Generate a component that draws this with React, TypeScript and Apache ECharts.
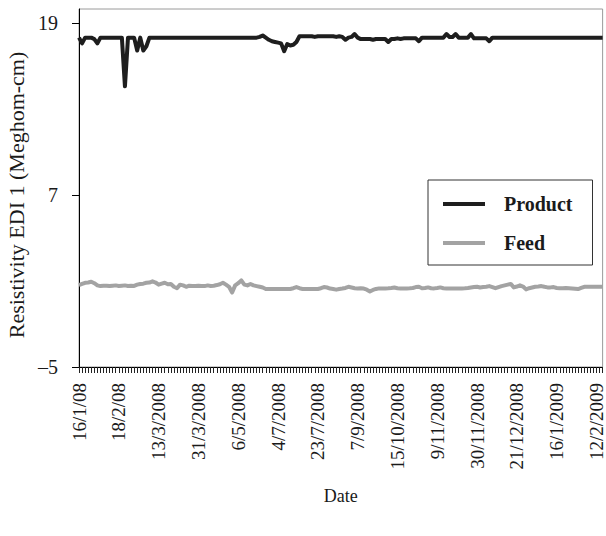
import React, { useEffect, useRef } from "react";
import * as echarts from "echarts";

const tickLabels = [
  "16/1/08", "18/2/08", "13/3/2008", "31/3/2008", "6/5/2008", "4/7/2008", "23/7/2008",
  "7/9/2008", "15/10/2008", "9/11/2008", "30/11/2008", "21/12/2008", "16/1/2009", "12/2/2009",
];
const pointsPerLabel = 13;

const product = [
  18.0, 17.6, 18.0, 18.0, 18.0, 17.9, 17.6, 18.0, 18.0, 18.0,
  18.0, 18.0, 18.0, 18.0, 18.0, 14.6, 18.0, 18.0, 18.0, 17.1,
  18.0, 17.1, 17.4, 18.0, 18.0, 18.0, 18.0, 18.0, 18.0, 18.0,
  18.0, 18.0, 18.0, 18.0, 18.0, 18.0, 18.0, 18.0, 18.0, 18.0,
  18.0, 18.0, 18.0, 18.0, 18.0, 18.0, 18.0, 18.0, 18.0, 18.0,
  18.0, 18.0, 18.0, 18.0, 18.0, 18.0, 18.0, 18.0, 18.0, 18.05,
  18.15, 18.0, 17.85, 17.75, 17.7, 17.65, 17.6, 17.05, 17.55, 17.45,
  17.5, 17.7, 18.1, 18.1, 18.1, 18.1, 18.1, 18.05, 18.1, 18.1,
  18.1, 18.1, 18.1, 18.1, 18.05, 18.1, 18.05, 17.85, 18.0, 18.05,
  18.25, 18.0, 17.9, 17.9, 17.9, 17.9, 17.85, 17.9, 17.9, 17.9,
  17.9, 17.7, 17.9, 17.9, 17.95, 17.9, 17.95, 17.95, 17.95, 17.95,
  17.95, 17.75, 18.0, 18.0, 18.0, 18.0, 18.0, 18.0, 18.0, 18.0,
  18.25, 18.05, 18.05, 18.25, 18.0, 18.0, 18.0, 18.0, 18.25, 17.95,
  17.95, 17.95, 17.95, 17.95, 17.75, 18.0, 18.0, 18.0, 18.0, 18.0,
  18.0, 18.0, 18.0, 18.0, 18.0, 18.0, 18.0, 18.0, 18.0, 18.0,
  18.0, 18.0, 18.0, 18.0, 18.0, 18.0, 18.0, 18.0, 18.0, 18.0,
  18.0, 18.0, 18.0, 18.0, 18.0, 18.0, 18.0, 18.0, 18.0, 18.0,
  18.0, 18.0,
];

const feed = [
  0.72, 0.8, 0.88, 0.9, 0.95, 0.85, 0.7, 0.65, 0.67, 0.68,
  0.65, 0.68, 0.7, 0.66, 0.68, 0.7, 0.66, 0.68, 0.66, 0.75,
  0.8, 0.82, 0.88, 0.9, 0.98, 0.9, 0.75, 0.82, 0.88, 0.78,
  0.8, 0.6, 0.5, 0.75, 0.7, 0.6, 0.68, 0.66, 0.65, 0.68,
  0.66, 0.65, 0.7, 0.66, 0.68, 0.72, 0.78, 0.88, 0.75, 0.6,
  0.2, 0.7, 0.85, 1.05, 0.75, 0.7, 0.8, 0.7, 0.65, 0.6,
  0.55, 0.45, 0.44, 0.45, 0.44, 0.45, 0.45, 0.44, 0.45, 0.45,
  0.5, 0.58, 0.5, 0.45, 0.44, 0.45, 0.45, 0.44, 0.45, 0.5,
  0.58, 0.55, 0.48, 0.45, 0.4, 0.45, 0.48, 0.52, 0.6, 0.55,
  0.5, 0.48, 0.5, 0.48, 0.4, 0.28, 0.38, 0.45, 0.49, 0.49,
  0.49, 0.5, 0.52, 0.55, 0.5, 0.49, 0.49, 0.49, 0.5, 0.52,
  0.58, 0.6, 0.5, 0.52, 0.56, 0.5, 0.49, 0.52, 0.56, 0.5,
  0.49, 0.49, 0.49, 0.49, 0.49, 0.49, 0.5, 0.52, 0.55, 0.58,
  0.6, 0.55, 0.58, 0.6, 0.65, 0.58, 0.5, 0.58, 0.65, 0.7,
  0.75, 0.8, 0.56, 0.62, 0.7, 0.62, 0.42, 0.5, 0.55, 0.6,
  0.62, 0.65, 0.6, 0.56, 0.56, 0.58, 0.52, 0.5, 0.5, 0.52,
  0.5, 0.48, 0.46, 0.44, 0.52, 0.6, 0.6, 0.6, 0.6, 0.6,
  0.6, 0.6,
];

const yTicks = [-5, 7, 19];

const categories = product.map((_, i) =>
  i % pointsPerLabel === 0 && tickLabels[i / pointsPerLabel]
    ? tickLabels[i / pointsPerLabel]
    : "p" + i
);

const SERIF = "Liberation Serif";

export default function App() {
  const ref = useRef<HTMLDivElement>(null);
  useEffect(() => {
    if (!ref.current) return;
    const chart = echarts.init(ref.current, undefined, { renderer: "svg" });
    chart.setOption({
      animation: false,
      backgroundColor: "#ffffff",
      textStyle: { fontFamily: SERIF },
      grid: {
        left: 79,
        right: 3,
        top: 9,
        bottom: 169,
        show: true,
        borderColor: "#9a9a9a",
        borderWidth: 1,
      },
      graphic: [
        {
          type: "text",
          x: 16,
          y: 195,
          rotation: Math.PI / 2,
          style: {
            text: "Resistivity EDI 1 (Meghom-cm)",
            fontFamily: SERIF,
            fontSize: 22,
            fill: "#1a1a1a",
            align: "center",
            verticalAlign: "middle",
          },
        },
      ],
      legend: {
        orient: "vertical",
        left: 428,
        top: 180,
        itemWidth: 42,
        itemHeight: 4,
        itemGap: 19,
        padding: [14, 20, 12, 15],
        borderColor: "#333",
        borderWidth: 1,
        backgroundColor: "#fff",
        textStyle: {
          fontFamily: SERIF,
          fontWeight: "bold",
          fontSize: 20,
          color: "#1a1a1a",
          padding: [0, 0, 0, 14],
        },
        data: [
          { name: "Product", icon: "rect" },
          { name: "Feed", icon: "rect" },
        ],
      },
      xAxis: {
        type: "category",
        data: categories,
        boundaryGap: false,
        name: "Date",
        nameLocation: "middle",
        nameGap: 120,
        nameTextStyle: { fontFamily: SERIF, fontSize: 18, color: "#1a1a1a" },
        axisLine: { show: true, onZero: false, lineStyle: { color: "#000", width: 1 } },
        axisTick: {
          show: true,
          interval: 0,
          length: 6,
          inside: false,
          lineStyle: { color: "#222", width: 1 },
        },
        axisLabel: {
          interval: pointsPerLabel - 1,
          rotate: 90,
          margin: 16,
          fontFamily: SERIF,
          fontSize: 19,
          color: "#1a1a1a",
        },
        splitLine: { show: false },
      },
      yAxis: {
        type: "value",
        min: -5,
        max: 20,
        interval: 12,
        axisLine: { show: true, lineStyle: { color: "#000", width: 1 } },
        axisTick: {
          show: true,
          length: 7,
          customValues: yTicks,
          lineStyle: { color: "#000" },
        },
        axisLabel: {
          customValues: yTicks,
          margin: 21,
          fontFamily: SERIF,
          fontSize: 20,
          color: "#1a1a1a",
          formatter: (v: number) => (v < 0 ? "\u2013" + Math.abs(v) : String(v)),
        },
        splitLine: { show: false },
      },
      series: [
        {
          name: "Product",
          type: "line",
          data: product,
          showSymbol: false,
          symbol: "none",
          color: "#1e1e1e",
          lineStyle: { color: "#1e1e1e", width: 4, join: "round" },
          z: 3,
        },
        {
          name: "Feed",
          type: "line",
          data: feed,
          showSymbol: false,
          symbol: "none",
          color: "#a3a3a3",
          lineStyle: { color: "#a3a3a3", width: 4, join: "round" },
          z: 2,
        },
      ],
    });
    return () => chart.dispose();
  }, []);
  return (
    <div
      ref={ref}
      style={{ position: "absolute", left: 0, top: 0, width: 606, height: 536 }}
    />
  );
}
